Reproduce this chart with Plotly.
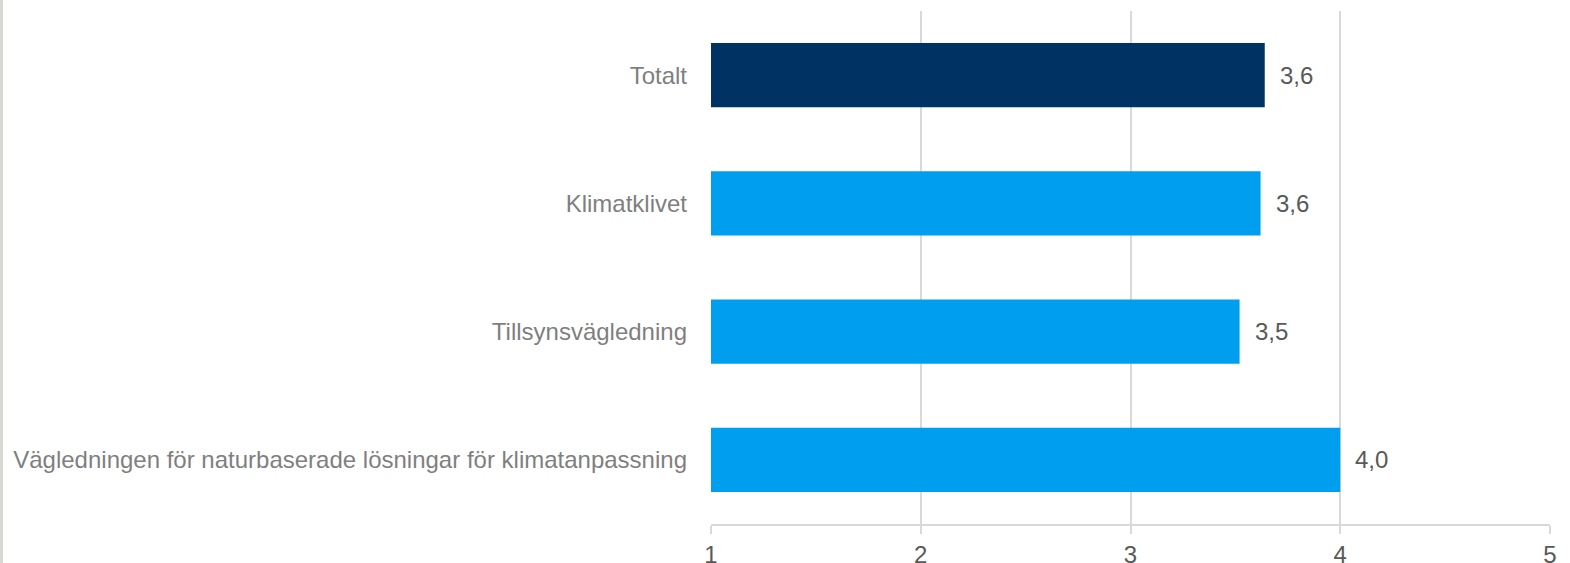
import plotly.graph_objects as go

categories = ["Totalt", "Klimatklivet", "Tillsynsvägledning",
              "Vägledningen för naturbaserade lösningar för klimatanpassning"]
values = [3.64, 3.62, 3.52, 4.00]
value_labels = ["3,6", "3,6", "3,5", "4,0"]
bar_colors = ["#003264", "#009EEF", "#009EEF", "#009EEF"]
x_ticks = [1, 2, 3, 4, 5]

FONT = "Liberation Sans, Arial, sans-serif"

fig = go.Figure()
fig.add_trace(go.Bar(
    y=categories, x=values, base=0, orientation="h",
    marker=dict(color=bar_colors, line=dict(width=0)),
    width=0.5, hoverinfo="skip",
))

for c, v, t in zip(categories, values, value_labels):
    fig.add_annotation(x=v, y=c, text=t, showarrow=False, xanchor="left",
                       xshift=13, font=dict(family=FONT, size=24, color="#595959"))

fig.update_layout(
    width=1570, height=563,
    margin=dict(l=711, r=20, t=11, b=39, autoexpand=False),
    plot_bgcolor="white", paper_bgcolor="white",
    showlegend=False,
    xaxis=dict(range=[1, 5], tickvals=x_ticks, ticktext=[str(t) for t in x_ticks],
               showgrid=True, gridcolor="#d9d9d9", gridwidth=1.5,
               showline=True, linecolor="#d9d9d9", linewidth=1.5,
               ticks="outside", ticklen=8, tickcolor="#d9d9d9", tickwidth=1.5,
               tickfont=dict(family=FONT, size=24, color="#595959"),
               zeroline=False, fixedrange=True),
    yaxis=dict(autorange="reversed", showgrid=False, showline=False,
               ticks="", ticklabelstandoff=23,
               tickfont=dict(family=FONT, size=24, color="#7f7f7f"),
               fixedrange=True),
)

fig.add_shape(type="rect", xref="paper", yref="paper", x0=-711/839, x1=-708/839,
              y0=-39/513, y1=1 + 11/513, fillcolor="#d9d9d4", line=dict(width=0),
              layer="below")

fig.write_html("out.html", config={"displayModeBar": False},
               post_script="document.body.style.margin='0';document.body.style.overflow='hidden';")
